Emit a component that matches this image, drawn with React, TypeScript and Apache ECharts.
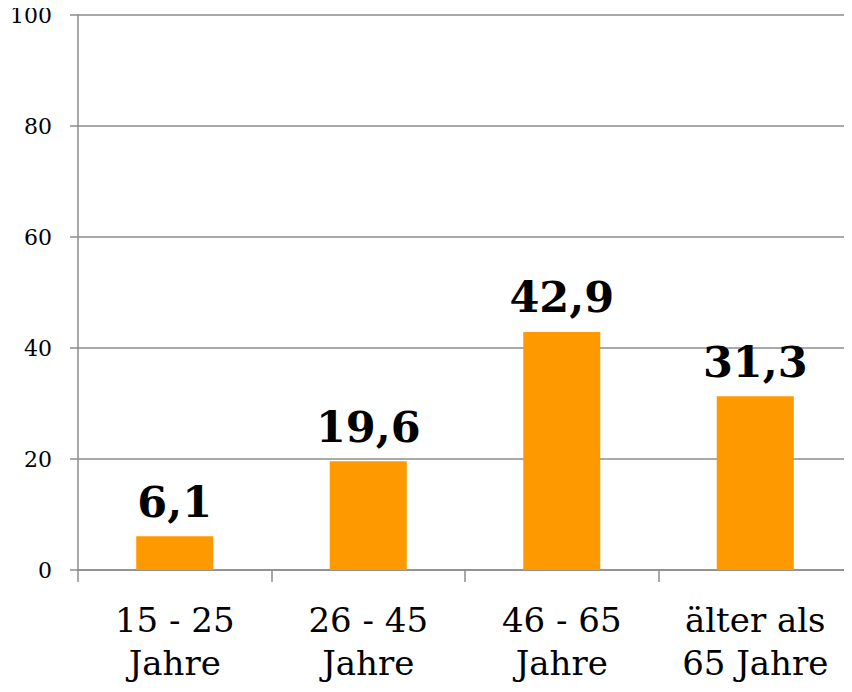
import React, { useEffect, useRef } from "react";
import * as echarts from "echarts";

const categories = ["15 - 25\nJahre", "26 - 45\nJahre", "46 - 65\nJahre", "älter als\n65 Jahre"];
const values = [6.1, 19.6, 42.9, 31.3];
const yTicks = { min: 0, max: 100, interval: 20 };

const FONT = "'DejaVu Serif', 'Liberation Serif', serif";
const GRID = "#8c8c8c";

export default function App() {
  const ref = useRef<HTMLDivElement>(null);
  useEffect(() => {
    const chart = echarts.init(ref.current!, null, { renderer: "svg" });
    chart.setOption({
      animation: false,
      grid: { left: 78, right: -6, top: 15, bottom: 122 },
      xAxis: {
        type: "category",
        data: categories,
        axisLine: { lineStyle: { color: GRID, width: 1.5 } },
        axisTick: { show: true, length: 12, lineStyle: { color: GRID, width: 1.5 } },
        axisLabel: {
          fontFamily: FONT,
          fontSize: 34,
          color: "#000",
          lineHeight: 43,
          margin: 28,
          interval: 0,
        },
      },
      yAxis: {
        type: "value",
        min: yTicks.min,
        max: yTicks.max,
        interval: yTicks.interval,
        axisLine: { show: true, lineStyle: { color: GRID, width: 1.5 } },
        axisTick: { show: true, length: 8, lineStyle: { color: GRID, width: 1.5 } },
        splitLine: { lineStyle: { color: GRID, width: 1.5 } },
        axisLabel: { fontFamily: FONT, fontSize: 22, color: "#000", margin: 26 },
      },
      series: [
        {
          type: "bar",
          data: values,
          barWidth: 77,
          itemStyle: { color: "#FF9900" },
          label: {
            show: true,
            position: "top",
            distance: 13,
            formatter: (p: any) => String(p.value).replace(".", ","),
            fontFamily: FONT,
            fontWeight: "bold",
            fontSize: 43,
            color: "#000",
          },
        },
      ],
    });
    return () => chart.dispose();
  }, []);
  return <div ref={ref} style={{ width: 852, height: 692, margin: -8 }} />;
}
